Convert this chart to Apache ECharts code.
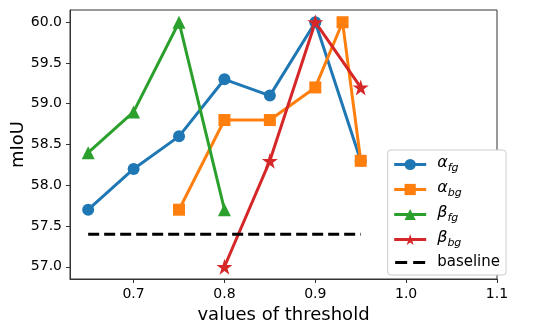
<!DOCTYPE html>
<html><head><meta charset="utf-8">
<script src="https://cdn.jsdelivr.net/npm/echarts@6/dist/echarts.min.js"></script>
<style>html,body{margin:0;padding:0;background:#fff}#c{width:539px;height:325px}</style>
</head><body><div id="c"></div>
<script>
const alphaFgX = [0.65, 0.70, 0.75, 0.80, 0.85, 0.90, 0.95];
const alphaFgY = [57.7, 58.2, 58.6, 59.3, 59.1, 60.0, 58.3];
const alphaBgX = [0.75, 0.80, 0.85, 0.90, 0.93, 0.95];
const alphaBgY = [57.7, 58.8, 58.8, 59.2, 60.0, 58.3];
const betaFgX = [0.65, 0.70, 0.75, 0.80];
const betaFgY = [58.4, 58.9, 60.0, 57.7];
const betaBgX = [0.80, 0.85, 0.90, 0.95];
const betaBgY = [57.0, 58.3, 60.0, 59.2];
const baselineX = [0.65, 0.95];
const baselineY = [57.4, 57.4];
const xTicks = [0.7, 0.8, 0.9, 1.0, 1.1];
const yTicks = [57.0, 57.5, 58.0, 58.5, 59.0, 59.5, 60.0];
const names = ['afg', 'abg', 'bfg', 'bbg', 'baseline'];

const pairs = (xs, ys) => xs.map((x, i) => [x, ys[i]]);
const FONT = 'DejaVu Sans';
const star = 'path://M0,-1000L224,-309L951,-309L363,118L588,809L0,382L-588,809L-363,118L-951,-309L-224,-309Z';
const dashIcon = 'path://M0,0L0,0ZM32,14L32,14ZM1,5.5h12v3h-12zM19,5.5h12v3h-12z';
const labelMap = {
  afg: '{g|α}{s|fg}', abg: '{g|α}{s|bg}', bfg: '{g|β}{s|fg}', bbg: '{g|β}{s|bg}', baseline: '{t|baseline}'
};
function mk(name, xs, ys, color, symbol, size) {
  return {
    name, type: 'line', data: pairs(xs, ys), symbol, symbolSize: size,
    showAllSymbol: true,
    lineStyle: { color, width: 3 }, itemStyle: { color, borderColor: color, borderWidth: 0 },
    emphasis: { disabled: true }, animation: false
  };
}
const chart = echarts.init(document.getElementById('c'), null, { renderer: 'canvas' });
chart.setOption({
  animation: false,
  textStyle: { fontFamily: FONT },
  grid: { left: 70, right: 42, top: 10, bottom: 46, containLabel: false, outerBoundsMode: 'none',
    show: true, borderColor: '#333', borderWidth: 1, backgroundColor: '#fff' },
  xAxis: {
    type: 'value', min: 0.63, max: 1.1,
    name: 'values of threshold', nameLocation: 'middle', nameGap: 25,
    nameTextStyle: { fontSize: 18, color: '#000', fontFamily: FONT },
    axisLine: { show: true, lineStyle: { color: '#333', width: 1 } },
    axisTick: { show: true, length: 4, customValues: xTicks, lineStyle: { color: '#333' } },
    axisLabel: { customValues: xTicks, fontSize: 14, color: '#000', margin: 8, fontFamily: FONT, formatter: v => v.toFixed(1) },
    splitLine: { show: false }
  },
  yAxis: {
    type: 'value', min: 56.85, max: 60.15,
    name: 'mIoU', nameLocation: 'middle', nameGap: 43, nameMoveOverlap: false,
    nameTextStyle: { fontSize: 18, color: '#000', fontFamily: FONT },
    axisLine: { show: true, lineStyle: { color: '#333', width: 1 } },
    axisTick: { show: true, length: 4, customValues: yTicks, lineStyle: { color: '#333' } },
    axisLabel: { customValues: yTicks, fontSize: 14, color: '#000', margin: 8, fontFamily: FONT, formatter: v => v.toFixed(1) },
    splitLine: { show: false }
  },
  legend: {
    data: names.map(n => n === 'baseline'
      ? { name: n, icon: dashIcon, itemStyle: { color: '#000' } }
      : { name: n, lineStyle: { width: 3 } }),
    orient: 'vertical', right: 33, top: 150,
    itemWidth: 32, itemHeight: 14, itemGap: 6,
    padding: [5, 6, 5, 5],
    borderColor: '#ccc', borderWidth: 1, borderRadius: 3, backgroundColor: '#fff',
    formatter: n => labelMap[n],
    textStyle: {
      fontFamily: FONT, color: '#000', fontSize: 15, padding: [0, 0, 0, 6],
      rich: {
        g: { fontSize: 16, fontStyle: 'italic', fontFamily: FONT, color: '#000', lineHeight: 19, verticalAlign: 'top' },
        s: { fontSize: 11, fontStyle: 'italic', fontFamily: FONT, color: '#000', lineHeight: 19, verticalAlign: 'bottom' },
        t: { fontSize: 15, fontFamily: FONT, color: '#000', lineHeight: 19 }
      }
    }
  },
  series: [
    mk('afg', alphaFgX, alphaFgY, '#1f77b4', 'circle', 12),
    mk('abg', alphaBgX, alphaBgY, '#ff7f0e', 'rect', 12),
    mk('bfg', betaFgX, betaFgY, '#2ca02c', 'triangle', 13),
    mk('bbg', betaBgX, betaBgY, '#d62728', star, 16),
    {
      name: 'baseline', type: 'line', data: pairs(baselineX, baselineY), symbol: 'none',
      lineStyle: { color: '#000', width: 3, type: [11, 5] }, itemStyle: { color: '#000' },
      emphasis: { disabled: true }, animation: false
    }
  ]
});
</script></body></html>
